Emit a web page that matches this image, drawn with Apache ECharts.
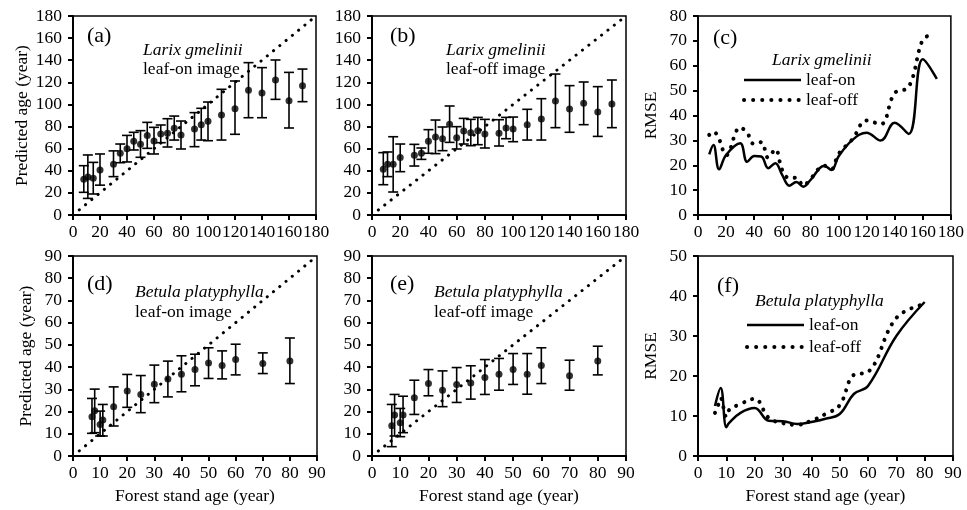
<!DOCTYPE html>
<html>
<head>
<meta charset="utf-8">
<script src="https://cdn.jsdelivr.net/npm/echarts@6/dist/echarts.min.js"></script>
<style>
  html,body{margin:0;padding:0;background:#fff;}
  #main{width:967px;height:510px;}
</style>
</head>
<body>
<div id="main"></div>
<script>
// Larix gmelinii (a, b, c)
const larixAge=[8,11,15,20,30,35,40,45,50,55,60,65,70,75,80,90,95,100,110,120,130,140,150,160,170];
const aPred=[32.3,34.4,33.2,40.7,46,55.8,60,66.6,63.9,72,67,73.3,73.9,78.4,72.4,77.8,81.7,84.7,90.4,96.2,112.8,110.3,122,103.4,117];
const aHigh=[44.6,54.3,47.6,55.2,58,64.2,72,74.8,76.3,83.8,79.3,81.4,87.1,89.5,85,92.6,96.5,102.2,113.7,121.2,137.8,133.3,140.2,129,132];
const aLow=[20.5,15,19,27,34.7,47.3,48,58.8,52.2,60.3,55.2,65.4,61.5,67.8,59.7,61.8,67.8,67.2,67.8,73,88,88,104.6,78.7,102.5];

const bPred=[41.3,45.8,45.8,51.9,54,55.8,66.6,70.5,69,82,69.9,76,74.5,76.3,73.3,73.9,78.7,77.8,81.7,86.8,103.1,95.9,101,93.2,100.4];
const bHigh=[56.4,57,70.8,64.2,63.9,60.6,77.2,85.9,79.6,98.6,79.9,87.4,86.5,88.3,86.5,86.2,88.3,88.6,95.6,105.2,127.5,117,120.3,116.1,122.1];
const bLow=[27.4,34.7,20.8,39.2,44.3,50.3,55.8,55.5,58.2,65.7,59.7,64.2,62.7,63.6,60.6,62.4,69,66.3,67.8,67.8,79,74.8,81.7,71.1,79];

const cOn=[24.4,28.1,18.4,24.1,28.8,21.4,23.7,23.5,18.8,20.8,16,11.8,13.3,11.4,14,19.8,18.1,23.5,30.2,33.1,29.9,37.1,32.6,62.6,54.7];
const cOffAge=[8,11,15,20,30,35,40,45,50,55,60,65,70,75,80,90,95,100,110,120,130,140,150,160,166];
const cOff=[32.2,33.5,30.5,24,35.2,33,28.5,29.3,23,26.4,18,14.8,15,11.8,14.5,19.8,18.5,24.5,30.5,38,36.5,49,51.5,70.5,72.3];

// Betula platyphylla (d, e, f)
const betulaAge=[7,8,10,11,15,20,25,30,35,40,45,50,55,60,70,80];
const dPred=[17.7,20.4,14.2,16.2,22.2,29.3,27.7,32.3,34.6,36.8,38.9,41.9,40.7,43.4,41.6,42.8];
const dHigh=[25.9,30.1,20.2,23.2,31.1,36.7,36.2,40.9,42.7,45.1,45.8,48.7,47.3,50.3,46.4,53.1];
const dLow=[10.2,10.5,9,9,13.5,21.9,19.5,24,26.6,28.9,31.6,34.9,34.7,36.5,37.1,32.6];

const ePred=[13.6,18.4,15,18.4,26.2,32.6,29.6,32.2,32.9,35.3,36.8,38.9,36.8,40.7,36.1,42.8];
const eHigh=[23.2,27.7,21.4,26.9,34.1,38.9,38.3,39.8,40.6,43.4,43.9,46.1,46.1,48.7,43.1,49.4];
const eLow=[4.2,9,8.7,10.5,18.7,27.1,22.2,24.1,25.6,27.7,29.6,32.2,27.8,32.6,29.6,36.5];

const fOnAge=[6,8,10,11,15,20,25,30,35,40,45,50,55,60,70,80];
const fOn=[12.5,17,7.2,8.3,10.8,12,8.8,8.7,8,8.5,9.3,10.5,15.5,17.5,30,38.5];
const fOffAge=[6,7,8,10,11,15,20,25,30,35,40,45,50,55,60,70,80];
const fOff=[10.8,12.5,14.5,9.8,11.5,13,14.3,9.5,8.2,7.8,8.8,10.5,12.7,20.3,21,34.5,38];

const FONT='"Liberation Serif","DejaVu Serif",serif';
const FS=17.5;
const black='#000';

function pairs(xs,ys){
  return xs.map(function(x,i){return [x,ys[i]];});
}
function bars(xs,lo,hi){
  return xs.map(function(x,i){return [x,lo[i],hi[i]];});
}

function errRender(params,api){
  const x=api.value(0);
  const top=api.coord([x,api.value(2)]);
  const bot=api.coord([x,api.value(1)]);
  const w=5;
  const st={stroke:black,lineWidth:1.6};
  return {type:'group',children:[
    {type:'line',shape:{x1:top[0],y1:top[1],x2:bot[0],y2:bot[1]},style:st},
    {type:'line',shape:{x1:top[0]-w,y1:top[1],x2:top[0]+w,y2:top[1]},style:st},
    {type:'line',shape:{x1:bot[0]-w,y1:bot[1],x2:bot[0]+w,y2:bot[1]},style:st}
  ]};
}

const grids=[
  {left:73,top:16,width:243,height:199},
  {left:372,top:16,width:254,height:199},
  {left:698,top:16,width:253,height:199},
  {left:73,top:256,width:244,height:200},
  {left:372,top:256,width:254,height:200},
  {left:698,top:256,width:255,height:200}
].map(function(g){
  return Object.assign({show:true,borderColor:black,borderWidth:1.5,backgroundColor:'transparent'},g);
});

function xAxis(i,max,interval,withName){
  return {
    type:'value',gridIndex:i,min:0,max:max,interval:interval,
    name:withName?'Forest stand age (year)':'',
    nameLocation:'middle',nameGap:31,
    nameTextStyle:{color:black,fontFamily:FONT,fontSize:FS},
    axisLine:{show:true,lineStyle:{color:black,width:2}},
    axisTick:{show:true,length:5,lineStyle:{color:black,width:2}},
    axisLabel:{color:black,fontFamily:FONT,fontSize:FS,margin:8,showMinLabel:true,showMaxLabel:true},
    splitLine:{show:false}
  };
}
function yAxis(i,max,interval,name,gap){
  return {
    type:'value',gridIndex:i,min:0,max:max,interval:interval,
    name:name,nameLocation:'middle',nameGap:gap,
    nameTextStyle:{color:black,fontFamily:FONT,fontSize:FS},
    axisLine:{show:true,lineStyle:{color:black,width:2}},
    axisTick:{show:true,length:5,lineStyle:{color:black,width:2}},
    axisLabel:{color:black,fontFamily:FONT,fontSize:FS,margin:11},
    splitLine:{show:false}
  };
}

const diagStyle={color:black,width:3,type:[0.1,8],cap:'round'};
const dotStyle={color:black,width:4,type:[0.1,8.5],cap:'round'};

function diag(i,max){
  return {type:'line',xAxisIndex:i,yAxisIndex:i,data:[[0,0],[max,max]],symbol:'none',
    lineStyle:diagStyle,silent:true,z:1};
}
function errSeries(i,xs,lo,hi){
  return {type:'custom',xAxisIndex:i,yAxisIndex:i,renderItem:errRender,
    encode:{x:0,y:[1,2]},data:bars(xs,lo,hi),z:2};
}
function pts(i,xs,ys){
  return {type:'scatter',xAxisIndex:i,yAxisIndex:i,data:pairs(xs,ys),
    symbol:'circle',symbolSize:7,itemStyle:{color:black},z:3};
}
function curve(i,name,xs,ys,dotted){
  return {type:'line',name:name,xAxisIndex:i,yAxisIndex:i,data:pairs(xs,ys),smooth:0.4,
    symbol:'none',lineStyle:dotted?dotStyle:{color:black,width:2.5},itemStyle:{color:black}};
}

function txt(x,y,text,size,italic){
  return {type:'text',x:x,y:y,style:{text:text,fill:black,
    font:(italic?'italic ':'')+size+'px '+FONT,verticalAlign:'middle'}};
}

function legend(left,top,gap){
  return {
    data:[
      {name:'leaf-on',lineStyle:{color:black,width:2.5,type:'solid'}},
      {name:'leaf-off',lineStyle:{color:black,width:4,type:[0.1,9],cap:'round'}}
    ],
    orient:'vertical',left:left,top:top,padding:0,
    itemWidth:57,itemHeight:14,itemGap:gap,selectedMode:false,
    itemStyle:{opacity:0},
    textStyle:{color:black,fontFamily:FONT,fontSize:FS}};
}

const chart=echarts.init(document.getElementById('main'),null,{renderer:'canvas'});
chart.setOption({
  animation:false,
  backgroundColor:'#fff',
  grid:grids,
  xAxis:[
    xAxis(0,180,20,false),xAxis(1,180,20,false),xAxis(2,180,20,false),
    xAxis(3,90,10,true),xAxis(4,90,10,true),xAxis(5,90,10,true)
  ],
  yAxis:[
    yAxis(0,180,20,'Predicted age (year)',38),yAxis(1,180,20,'',38),yAxis(2,80,10,'RMSE',38),
    yAxis(3,90,10,'Predicted age (year)',38),yAxis(4,90,10,'',38),yAxis(5,50,10,'RMSE',38)
  ],
  legend:[legend(742,71,2),legend(745,316,4)],
  graphic:[
    txt(87,36,'(a)',22,false),
    txt(143,50,'Larix gmelinii',FS,true),
    txt(143,69,'leaf-on image',FS,false),
    txt(390,36,'(b)',22,false),
    txt(446,50,'Larix gmelinii',FS,true),
    txt(446,69,'leaf-off image',FS,false),
    txt(713,38,'(c)',22,false),
    txt(772,60,'Larix gmelinii',FS,true),
    txt(87,284,'(d)',22,false),
    txt(135,292,'Betula platyphylla',FS,true),
    txt(135,312,'leaf-on image',FS,false),
    txt(390,284,'(e)',22,false),
    txt(434,292,'Betula platyphylla',FS,true),
    txt(434,312,'leaf-off image',FS,false),
    txt(717,286,'(f)',22,false),
    txt(755,301,'Betula platyphylla',FS,true)
  ],
  series:[
    diag(0,180),errSeries(0,larixAge,aLow,aHigh),pts(0,larixAge,aPred),
    diag(1,180),errSeries(1,larixAge,bLow,bHigh),pts(1,larixAge,bPred),
    curve(2,'leaf-on',larixAge,cOn,false),curve(2,'leaf-off',cOffAge,cOff,true),
    diag(3,90),errSeries(3,betulaAge,dLow,dHigh),pts(3,betulaAge,dPred),
    diag(4,90),errSeries(4,betulaAge,eLow,eHigh),pts(4,betulaAge,ePred),
    curve(5,'leaf-on',fOnAge,fOn,false),curve(5,'leaf-off',fOffAge,fOff,true)
  ]
});
</script>
</body>
</html>
